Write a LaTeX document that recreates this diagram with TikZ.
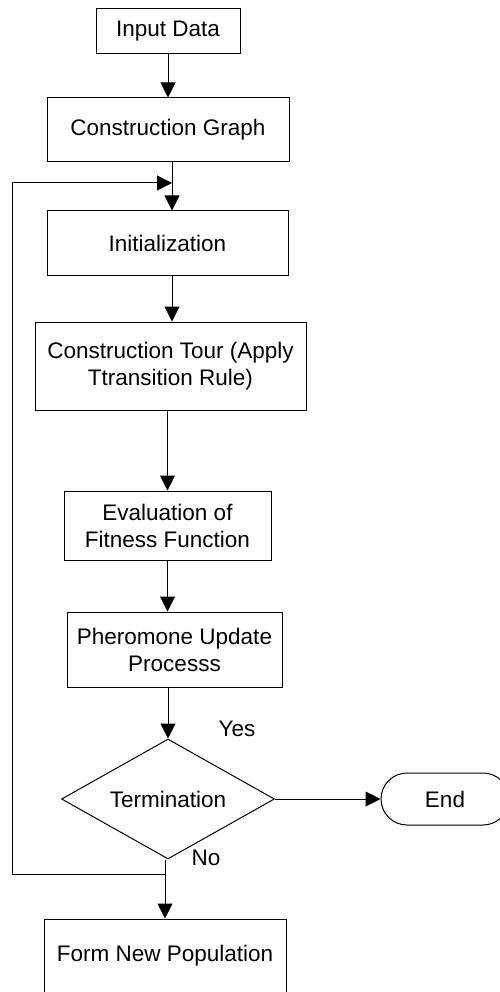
\documentclass[tikz,border=0pt]{standalone}
\usepackage{fontspec}
\setmainfont{Liberation Sans}
\usetikzlibrary{arrows.meta,shapes.geometric}

\begin{document}
\begin{tikzpicture}[x=1pt,y=-1pt,
  every node/.style={font=\fontsize{22.5}{27}\selectfont},
  stepbox/.style={draw, line width=1pt, inner sep=0pt, align=center},
  flow/.style={line width=1pt, -{Triangle[length=15pt,width=15pt]}},
  labeltext/.style={inner sep=0pt}]
  \useasboundingbox (0,0) rectangle (500,992);
  \clip (0,0) rectangle (500,992);

  % process boxes
  \node[stepbox, minimum width=144pt, minimum height=45pt] (in)   at (168,31.5)  {Input Data};
  \node[stepbox, minimum width=242pt, minimum height=64pt] (cg)   at (168,130)   {Construction Graph};
  \node[stepbox, minimum width=241pt, minimum height=64pt] (init) at (167.5,243) {Initialization};
  \node[stepbox, minimum width=271pt, minimum height=88pt] (ct)   at (170.5,366) {Construction Tour (Apply\\Ttransition Rule)};
  \node[stepbox, minimum width=207pt, minimum height=69pt] (ev)   at (167.5,525.5) {Evaluation of\\Fitness Function};
  \node[stepbox, minimum width=215pt, minimum height=75pt] (ph)   at (174.5,649.5) {Pheromone Update\\Processs};

  % decision and terminal
  \node[draw, diamond, aspect=1.775, line width=1pt, inner sep=0pt, minimum width=213pt, minimum height=120pt] (dia) at (168,799) {Termination};
  \node[draw, line width=1pt, rounded corners=26pt, minimum width=128pt, minimum height=52pt] (end) at (445,799) {End};

  \node[stepbox, minimum width=242pt, minimum height=74pt] (fnp) at (165,956) {Form New Population};

  % branch labels
  \node[labeltext] (yes) at (237,729) {Yes};
  \node[labeltext] (no)  at (206,858) {No};

  % loop-back point above the initialization box
  \coordinate (fb) at (172,183);
  \coordinate (lpb) at (12,874);
  \coordinate (lpt) at (12,183);

  % main flow
  \draw[flow] (in.south) -- (cg.north);
  \draw[flow] (cg.south -| fb) -- (init.north -| fb);
  \draw[flow] (init.south -| fb) -- (ct.north -| fb);
  \draw[flow] (ct.south -| ev.north) -- (ev.north);
  \draw[flow] (ev.south) -- (ph.north -| ev.south);
  \draw[flow] (ph.south -| dia.north) -- (dia.north);
  \draw[flow] (dia.east) -- (end.west);
  \draw[flow] (dia.south -| fnp.north) -- (fnp.north);

  % feedback loop
  \draw[flow] (fnp.north |- lpb) -- (lpb) -- (lpt) -- (fb);
\end{tikzpicture}
\end{document}
